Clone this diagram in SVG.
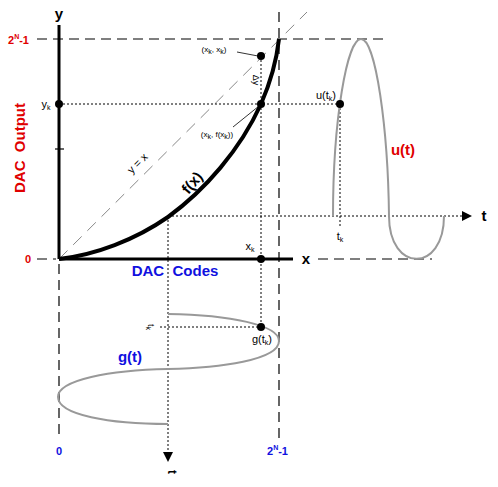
<svg xmlns="http://www.w3.org/2000/svg" width="498" height="487" viewBox="0 0 498 487">
<defs>
<style>
text{font-family:"Liberation Sans",Arial,sans-serif;}
.dash{stroke:#000;stroke-width:1.2;stroke-dasharray:10,6;fill:none}
.dot{stroke:#000;stroke-width:1;stroke-dasharray:2,2;fill:none}
.gray{stroke:#999;stroke-width:2;fill:none}
.axis{stroke:#000;stroke-width:3;fill:none}
.lbl{font-size:11px;fill:#000}
.big{font-size:15px;font-weight:bold}
.small{font-size:8px;fill:#000}
.sub{font-size:7px}
</style>
<marker id="arr" viewBox="0 0 10 10" refX="0" refY="5" markerWidth="10" markerHeight="10" markerUnits="userSpaceOnUse" orient="auto"><path d="M0,0 L10,5 L0,10 z" fill="#000"/></marker>
</defs>
<rect width="498" height="487" fill="#fff"/>
<g id="connectors">
<line class="dash" x1="37" y1="39" x2="388" y2="39"/>
<line class="dash" x1="37" y1="259" x2="56" y2="259"/>
<line class="dash" x1="318" y1="259" x2="432" y2="259"/>
<line class="dash" x1="279" y1="12" x2="279" y2="440"/>
<line class="dash" x1="59" y1="264" x2="59" y2="440"/>
<line x1="59" y1="259" x2="307" y2="12" stroke="#888" stroke-width="1" stroke-dasharray="12,8"/>
<line class="dot" x1="59" y1="104" x2="340" y2="104"/>
<line class="dot" x1="261" y1="56" x2="261" y2="327"/>
<line class="dot" x1="340" y1="104" x2="340" y2="228"/>
<line class="dot" x1="168" y1="216" x2="462" y2="216" marker-end="url(#arr)"/>
<line class="dot" x1="168" y1="216" x2="168" y2="452" marker-end="url(#arr)"/>
<line class="dot" x1="160" y1="327" x2="261" y2="327"/>
<line x1="237" y1="52" x2="258" y2="56" stroke="#000" stroke-width="0.8"/>
<line x1="233" y1="127" x2="259" y2="106" stroke="#000" stroke-width="0.8"/>
</g>
<g id="axes">
<line class="axis" x1="59" y1="25" x2="59" y2="259"/>
<line class="axis" x1="59" y1="259" x2="293" y2="259"/>
<line x1="55" y1="149" x2="64" y2="149" stroke="#000" stroke-width="1.2"/>
<text x="59" y="19" class="big" fill="#000" text-anchor="middle">y</text>
<text x="306" y="264" class="big" fill="#000" text-anchor="middle">x</text>
<text x="484" y="221" class="big" fill="#000" text-anchor="middle">t</text>
<text x="25" y="148" class="big" fill="#e00000" text-anchor="middle" transform="rotate(-90 25 148)" xml:space="preserve">DAC  Output</text>
<text x="175" y="276" class="big" fill="#1010e0" text-anchor="middle" xml:space="preserve">DAC  Codes</text>
<text x="8" y="44" font-size="11" font-weight="bold" fill="#e00000">2<tspan font-size="7" dy="-5">N</tspan><tspan dy="5">-1</tspan></text>
<text x="28" y="263" font-size="11" font-weight="bold" fill="#e00000" text-anchor="middle">0</text>
<text x="59" y="455" font-size="11" font-weight="bold" fill="#1010e0" text-anchor="middle">0</text>
<text x="267" y="455" font-size="11" font-weight="bold" fill="#1010e0">2<tspan font-size="7" dy="-5">N</tspan><tspan dy="5">-1</tspan></text>
</g>
<g id="fx">
<path d="M59,259 C95,255 135,240 168,217 C205,190 240,150 261,104 C268,88 276,65 279,39" fill="none" stroke="#000" stroke-width="4"/>
<text x="196" y="186" class="big" fill="#000" text-anchor="middle" transform="rotate(-50 196 186)">f(x)</text>
<text x="140" y="166" font-size="11" fill="#000" text-anchor="middle" transform="rotate(-45 140 166)">y = x</text>
</g>
<g id="point-xkxk">
<circle cx="261" cy="56" r="4"/>
<text x="214" y="52" class="small" text-anchor="middle">(x<tspan class="sub" dy="2">k</tspan><tspan dy="-2">, x</tspan><tspan class="sub" dy="2">k</tspan><tspan dy="-2">)</tspan></text>
<text x="253" y="80" font-size="9" fill="#000" text-anchor="middle" transform="rotate(90 253 80)">Δy</text>
</g>
<g id="point-xkfxk">
<circle cx="261" cy="104" r="4"/>
<text x="217" y="137" class="small" text-anchor="middle">(x<tspan class="sub" dy="2">k</tspan><tspan dy="-2">, f(x</tspan><tspan class="sub" dy="2">k</tspan><tspan dy="-2">))</tspan></text>
</g>
<g id="point-yk">
<circle cx="59" cy="104" r="4"/>
<text x="46" y="108" class="lbl" text-anchor="middle">y<tspan class="sub" dy="2">k</tspan></text>
</g>
<g id="point-xk">
<circle cx="261" cy="259" r="4"/>
<text x="250" y="250" class="lbl" text-anchor="middle">x<tspan class="sub" dy="2">k</tspan></text>
</g>
<g id="ut">
<path class="gray" d="M333,216 C333,120 347,39 361,39 C376,39 388,130 389,216 C389,273 444,273 444,216"/>
<circle cx="340" cy="104" r="4"/>
<text x="326" y="99" class="lbl" text-anchor="middle">u(t<tspan class="sub" dy="2">k</tspan><tspan dy="-2">)</tspan></text>
<text x="340" y="240" class="lbl" text-anchor="middle">t<tspan class="sub" dy="2">k</tspan></text>
<text x="403" y="155" class="big" fill="#e00000" text-anchor="middle">u(t)</text>
</g>
<g id="gt">
<path class="gray" d="M168,314 C230,315 279,325 279,341 C279,360 220,368 168,369 C110,370 58,380 58,397 C58,415 110,424 168,424"/>
<circle cx="261" cy="327" r="4"/>
<text x="262" y="343" class="lbl" text-anchor="middle">g(t<tspan class="sub" dy="2">k</tspan><tspan dy="-2">)</tspan></text>
<text x="148" y="327" font-size="9" fill="#000" text-anchor="middle" transform="rotate(90 148 327)">t<tspan class="sub" dy="2">k</tspan></text>
<text x="168" y="472" font-size="12" font-weight="bold" fill="#000" text-anchor="middle" transform="rotate(90 168 472)">t</text>
<text x="130" y="362" class="big" fill="#1010e0" text-anchor="middle">g(t)</text>
</g>
</svg>
